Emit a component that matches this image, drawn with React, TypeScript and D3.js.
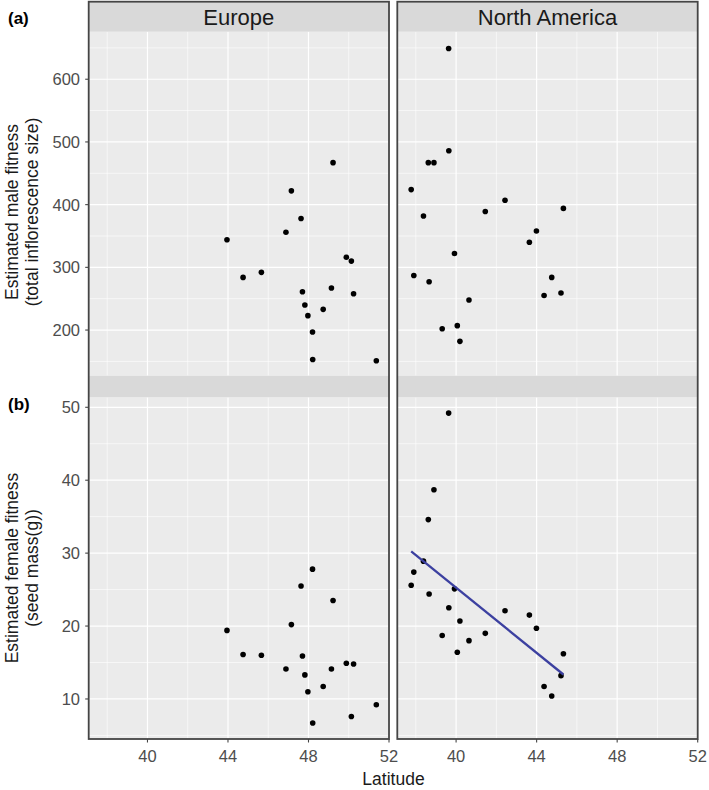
import React from 'react'
import { scaleLinear, line, mean } from 'd3'

// Two-row facet of fitness vs latitude, ggplot grey theme look.
// Europe and North America columns share the latitude scale.

const regions = ['Europe', 'North America']

const europeLat = [49.22, 47.15, 47.63, 46.88, 43.95, 49.88, 50.13, 44.75, 45.66, 47.7, 49.14, 50.24, 47.82, 48.73, 47.97, 48.2, 48.21, 51.37]
const europeMale = [467, 422, 378, 356, 344, 316, 310, 284, 292, 261, 267, 258, 240, 233, 223, 197, 153, 151]
const europeSeed = [23.5, 20.2, 25.5, 14.1, 19.4, 14.9, 7.6, 16.1, 16.0, 15.9, 14.1, 14.8, 13.3, 11.7, 11.0, 27.8, 6.7, 9.2]

const naLat = [39.63, 39.64, 38.62, 38.9, 37.77, 42.43, 45.33, 41.45, 38.38, 43.99, 43.64, 39.92, 37.9, 38.66, 44.75, 45.21, 44.37, 40.64, 39.31, 40.06, 40.19]
const naMale = [649, 486, 467, 467, 424, 407, 394, 389, 382, 358, 340, 322, 287, 277, 284, 259, 255, 248, 202, 207, 182]
const naSeed = [49.2, 22.5, 34.6, 38.7, 25.6, 22.1, 16.2, 19.0, 28.9, 19.7, 21.5, 25.1, 27.4, 24.4, 10.4, 13.2, 11.7, 18.0, 18.7, 16.4, 20.7]

const latTicks = [40, 44, 48, 52]
const latMinor = [38, 42, 46, 50]
const maleTicks = [200, 300, 400, 500, 600]
const maleMinor = [150, 250, 350, 450, 550, 650]
const seedTicks = [10, 20, 30, 40, 50]
const seedMinor = [5, 15, 25, 35, 45]

const FONT = '"Liberation Sans", Arial, Helvetica, sans-serif'
const PANEL_BG = '#ebebeb'
const STRIP_BG = '#d9d9d9'
const BORDER = '#454545'
const TICK_TEXT = '#4d4d4d'
const FIT = '#3c40a0'

// least squares fit of seed mass on latitude (North America)
function fitLine(xs: number[], ys: number[]) {
  const mx = mean(xs) ?? 0
  const my = mean(ys) ?? 0
  let sxy = 0
  let sxx = 0
  xs.forEach((x, i) => {
    sxy += (x - mx) * (ys[i] - my)
    sxx += (x - mx) * (x - mx)
  })
  const b = sxy / sxx
  const a = my - b * mx
  const lo = Math.min(...xs)
  const hi = Math.max(...xs)
  return [
    { lat: lo, v: a + b * lo },
    { lat: hi, v: a + b * hi },
  ]
}

export default function App() {
  const cols = [
    { x0: 88.7, x1: 389 },
    { x0: 397.3, x1: 697.7 },
  ]
  const strip1 = { y0: 1.7, y1: 31.7 }
  const rowA = { y0: 31.7, y1: 375.7 }
  const strip2 = { y0: 375.7, y1: 397.3 }
  const rowB = { y0: 397.3, y1: 739 }

  const yA = scaleLinear().domain([127.2, 675.8]).range([rowA.y1, rowA.y0])
  const yB = scaleLinear().domain([4.51, 51.37]).range([rowB.y1, rowB.y0])

  const data = [
    { lat: europeLat, male: europeMale, seed: europeSeed },
    { lat: naLat, male: naMale, seed: naSeed },
  ]

  const fit = fitLine(naLat, naSeed)

  return (
    <svg
      width={709}
      height={790}
      viewBox="0 0 709 790"
      style={{ position: 'absolute', left: 0, top: 0, background: '#fff' }}
      fontFamily={FONT}
    >
      {cols.map((c, ci) => {
        const x = scaleLinear().domain([37.08, 52.0]).range([c.x0, c.x1])
        const d = data[ci]
        const rows = [
          { y: yA, r: rowA, major: maleTicks, minor: maleMinor, vals: d.male },
          { y: yB, r: rowB, major: seedTicks, minor: seedMinor, vals: d.seed },
        ]
        const path = line<{ lat: number; v: number }>()
          .x((p) => x(p.lat))
          .y((p) => yB(p.v))
        return (
          <g key={regions[ci]}>
            {rows.map((row, ri) => (
              <g key={ri}>
                <rect x={c.x0} y={row.r.y0} width={c.x1 - c.x0} height={row.r.y1 - row.r.y0} fill={PANEL_BG} />
                {row.minor.map((t) => (
                  <line key={'ym' + t} x1={c.x0} x2={c.x1} y1={row.y(t)} y2={row.y(t)} stroke="#fff" strokeWidth={0.6} />
                ))}
                {latMinor.map((t) => (
                  <line key={'xm' + t} x1={x(t)} x2={x(t)} y1={row.r.y0} y2={row.r.y1} stroke="#fff" strokeWidth={0.6} />
                ))}
                {row.major.map((t) => (
                  <line key={'y' + t} x1={c.x0} x2={c.x1} y1={row.y(t)} y2={row.y(t)} stroke="#fff" strokeWidth={1.2} />
                ))}
                {latTicks.map((t) => (
                  <line key={'x' + t} x1={x(t)} x2={x(t)} y1={row.r.y0} y2={row.r.y1} stroke="#fff" strokeWidth={1.2} />
                ))}
                {d.lat.map((lat, i) => (
                  <circle key={i} cx={x(lat)} cy={row.y(row.vals[i])} r={2.8} fill="#000" />
                ))}
              </g>
            ))}
            {ci === 1 && <path d={path(fit) ?? ''} fill="none" stroke={FIT} strokeWidth={2.3} />}
            <rect x={c.x0} y={strip1.y0} width={c.x1 - c.x0} height={strip1.y1 - strip1.y0} fill={STRIP_BG} />
            <rect x={c.x0} y={strip2.y0} width={c.x1 - c.x0} height={strip2.y1 - strip2.y0} fill={STRIP_BG} />
            <text x={(c.x0 + c.x1) / 2} y={24.5} textAnchor="middle" fontSize={22} fill="#1a1a1a">
              {regions[ci]}
            </text>
            <rect
              x={c.x0}
              y={strip1.y0}
              width={c.x1 - c.x0}
              height={rowB.y1 - strip1.y0}
              fill="none"
              stroke={BORDER}
              strokeWidth={1.8}
            />
            {latTicks.map((t) => (
              <g key={'xt' + t}>
                <line x1={x(t)} x2={x(t)} y1={rowB.y1} y2={rowB.y1 + 3.5} stroke={BORDER} strokeWidth={1.1} />
                <text x={x(t)} y={761.5} textAnchor="middle" fontSize={16.5} fill={TICK_TEXT}>
                  {t}
                </text>
              </g>
            ))}
          </g>
        )
      })}

      {[
        { y: yA, ticks: maleTicks },
        { y: yB, ticks: seedTicks },
      ].map((row, ri) => (
        <g key={'yt' + ri}>
          {row.ticks.map((t) => (
            <g key={t}>
              <line x1={cols[0].x0 - 3.5} x2={cols[0].x0} y1={row.y(t)} y2={row.y(t)} stroke={BORDER} strokeWidth={1.1} />
              <text x={80} y={row.y(t)} dy="0.36em" textAnchor="end" fontSize={16.5} fill={TICK_TEXT}>
                {t}
              </text>
            </g>
          ))}
        </g>
      ))}

      <g transform="translate(18,212) rotate(-90)">
        <text textAnchor="middle" fontSize={17.5} fill="#1a1a1a">Estimated male fitness</text>
      </g>
      <g transform="translate(37.5,212) rotate(-90)">
        <text textAnchor="middle" fontSize={17.5} fill="#1a1a1a">(total inflorescence size)</text>
      </g>
      <g transform="translate(18,568) rotate(-90)">
        <text textAnchor="middle" fontSize={17.5} fill="#1a1a1a">Estimated female fitness</text>
      </g>
      <g transform="translate(37.5,568) rotate(-90)">
        <text textAnchor="middle" fontSize={17.5} fill="#1a1a1a">(seed mass(g))</text>
      </g>

      <text x={393.5} y={785} textAnchor="middle" fontSize={17.5} fill="#1a1a1a">
        Latitude
      </text>

      <text x={8} y={24} fontSize={17} fontWeight="bold" fill="#000">
        (a)
      </text>
      <text x={8} y={410} fontSize={17} fontWeight="bold" fill="#000">
        (b)
      </text>
    </svg>
  )
}
